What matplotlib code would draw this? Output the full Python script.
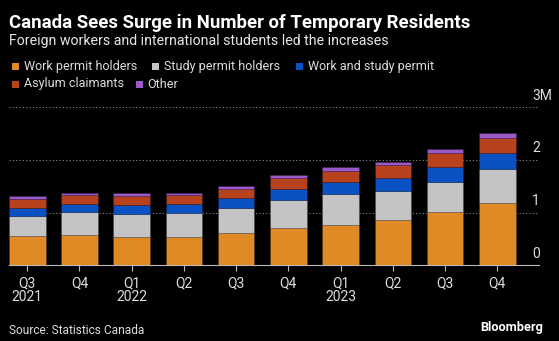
import numpy as np
import matplotlib
matplotlib.use("Agg")
import matplotlib.pyplot as plt
from matplotlib.patches import Rectangle

plt.rcParams["font.family"] = ["Roboto", "DejaVu Sans"]

quarters = ["Q3\n2021", "Q4", "Q1\n2022", "Q2", "Q3", "Q4", "Q1\n2023", "Q2", "Q3", "Q4"]

# millions of people
work_permit = [0.56, 0.575, 0.53, 0.54, 0.61, 0.71, 0.765, 0.86, 1.01, 1.18]
study_permit = [0.37, 0.43, 0.45, 0.45, 0.47, 0.53, 0.585, 0.555, 0.58, 0.65]
work_and_study = [0.16, 0.155, 0.16, 0.17, 0.19, 0.21, 0.225, 0.24, 0.275, 0.30]
asylum = [0.17, 0.17, 0.175, 0.17, 0.18, 0.20, 0.215, 0.245, 0.26, 0.29]
other = [0.05, 0.045, 0.055, 0.05, 0.05, 0.06, 0.075, 0.07, 0.085, 0.10]

series = [
    ("Work permit holders", work_permit, "#E08A26"),
    ("Study permit holders", study_permit, "#C4C4C4"),
    ("Work and study permit", work_and_study, "#0A52C4"),
    ("Asylum claimants", asylum, "#B8421E"),
    ("Other", other, "#9B59C9"),
]

fig = plt.figure(figsize=(5.59, 3.41), dpi=100, facecolor="black")
ax = fig.add_axes([9 / 559, 1 - 265.3 / 341, 530 / 559, (265.3 - 107.3) / 341])
ax.set_facecolor("black")

x = np.arange(len(quarters))
bottom = np.zeros(len(quarters))
for name, vals, color in series:
    ax.bar(x, vals, width=0.7, bottom=bottom, color=color, edgecolor="#00000040",
           linewidth=0.4, zorder=3)
    bottom += np.array(vals)

ax.set_xlim(-0.35, 9.8)
ax.set_ylim(0, 3)

for y in [1, 2, 3]:
    ax.axhline(y, color="#8a8a8a", linestyle=(0, (1, 2)), linewidth=0.8, zorder=1)

for s in ["top", "right", "left"]:
    ax.spines[s].set_visible(False)
ax.spines["bottom"].set_color("#bbbbbb")
ax.spines["bottom"].set_linewidth(0.8)

ax.set_xticks(x)
ax.set_xticklabels(quarters, fontsize=10, linespacing=1.0)
ax.tick_params(axis="x", colors="#bbbbbb", length=4, width=0.8, pad=4, labelcolor="#dddddd")
ax.set_yticks([])

ylabels = ["0", "1", "2", "3M"]
for i, lab in enumerate(ylabels):
    ax.text(1.0 - 7 / 530, i + 0.09, lab, transform=ax.get_yaxis_transform(), ha="left",
            va="bottom", color="#dddddd", fontsize=10, clip_on=False)

fig.text(9 / 559, 1 - 22.5 / 341, "Canada Sees Surge in Number of Temporary Residents",
         color="white", fontsize=13.4, fontweight="bold", va="center", ha="left")
fig.text(9 / 559, 1 - 41 / 341, "Foreign workers and international students led the increases",
         color="#e6e6e6", fontsize=10.2, va="center", ha="left")

legend_pos = [(11.8, 66.7), (152, 66.7), (296, 66.7), (11.8, 84), (135.5, 84)]
for (name, vals, color), (lx, ly) in zip(series, legend_pos):
    fig.patches.append(Rectangle((lx / 559, 1 - (ly + 3.5) / 341), 7 / 559, 7 / 341,
                                 transform=fig.transFigure, facecolor=color, edgecolor="none"))
    fig.text((lx + 12) / 559, 1 - ly / 341, name, color="#dddddd", fontsize=9,
             va="center", ha="left")

fig.text(9 / 559, 1 - 330 / 341, "Source: Statistics Canada", color="#dddddd",
         fontsize=8.6, va="center", ha="left")
fig.text(543 / 559, 1 - 327.4 / 341, "Bloomberg", color="white", fontsize=9.2,
         fontweight="bold", va="center", ha="right")

fig.savefig("out.png", dpi=100, facecolor="black")
